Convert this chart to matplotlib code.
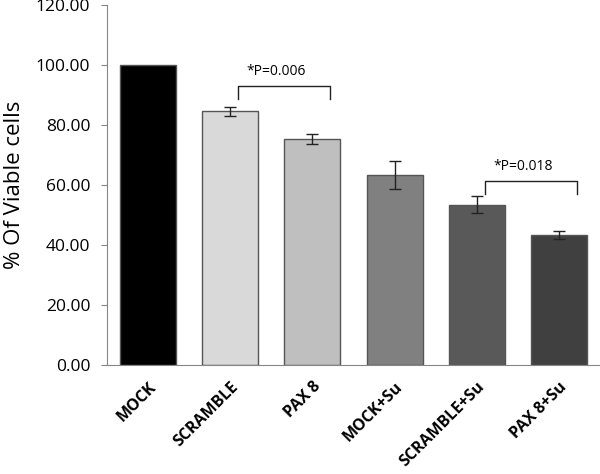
import matplotlib
matplotlib.use("Agg")
import matplotlib.pyplot as plt
from matplotlib.transforms import ScaledTranslation
import numpy as np

categories = ["MOCK", "SCRAMBLE", "PAX 8", "MOCK+Su", "SCRAMBLE+Su", "PAX 8+Su"]
values = [100.0, 84.6, 75.3, 63.4, 53.4, 43.3]
errors = [0.0, 1.5, 1.75, 4.6, 2.8, 1.4]
colors = ["#000000", "#d9d9d9", "#bfbfbf", "#808080", "#595959", "#404040"]
yticks = [0, 20, 40, 60, 80, 100, 120]
annotations = [("*P=0.006", 1, 2, 93.1, 88.6), ("*P=0.018", 4, 5, 61.3, 57.0)]

plt.rcParams['font.family'] = ['Open Sans', 'DejaVu Sans']

fig = plt.figure(figsize=(6.0, 4.74), dpi=100)
ax = fig.add_axes([107/600, 1 - 365/474, (600-107)/600, 360/474])

x = np.arange(len(categories))
ax.bar(x, values, width=0.68, color=colors, edgecolor="#555555", linewidth=1.0, zorder=2)
for i in range(len(categories)):
    if errors[i] > 0:
        ax.errorbar(x[i], values[i], yerr=errors[i], fmt='none', ecolor='#222222',
                    elinewidth=1.0, capsize=4, capthick=1.0, zorder=3)

for text, i0, i1, ytop, ybot in annotations:
    xa = x[i0] + 0.1
    xb = x[i1] + 0.22
    ax.plot([xa, xa, xb, xb], [ybot, ytop, ytop, ybot], color='#222222', lw=1.0, zorder=3)
    ax.text((xa + xb) / 2 - 0.1, ytop + 2.2, text, ha='center', va='bottom', fontsize=10)

ax.set_xlim(-0.5, 5.5)
ax.set_ylim(0, 120)
ax.set_yticks(yticks)
ax.set_yticklabels([f"{v:.2f}" for v in yticks], fontsize=12.5)
ax.set_xticks(x)
ax.set_xticklabels(categories, rotation=45, ha='right', va='top', rotation_mode='anchor',
                   fontsize=11.5, fontweight='bold')
offset = ScaledTranslation(9/72, 0, fig.dpi_scale_trans)
for lbl in ax.get_xticklabels():
    lbl.set_transform(lbl.get_transform() + offset)
ax.tick_params(axis='x', length=0, pad=10)
ax.tick_params(axis='y', length=4, color='#868686', direction='out', pad=8)
for s in ['top', 'right']:
    ax.spines[s].set_visible(False)
for s in ['left', 'bottom']:
    ax.spines[s].set_color('#868686')
ax.set_ylabel("% Of Viable cells", fontsize=16, labelpad=8)

fig.savefig("out.png", dpi=100)
